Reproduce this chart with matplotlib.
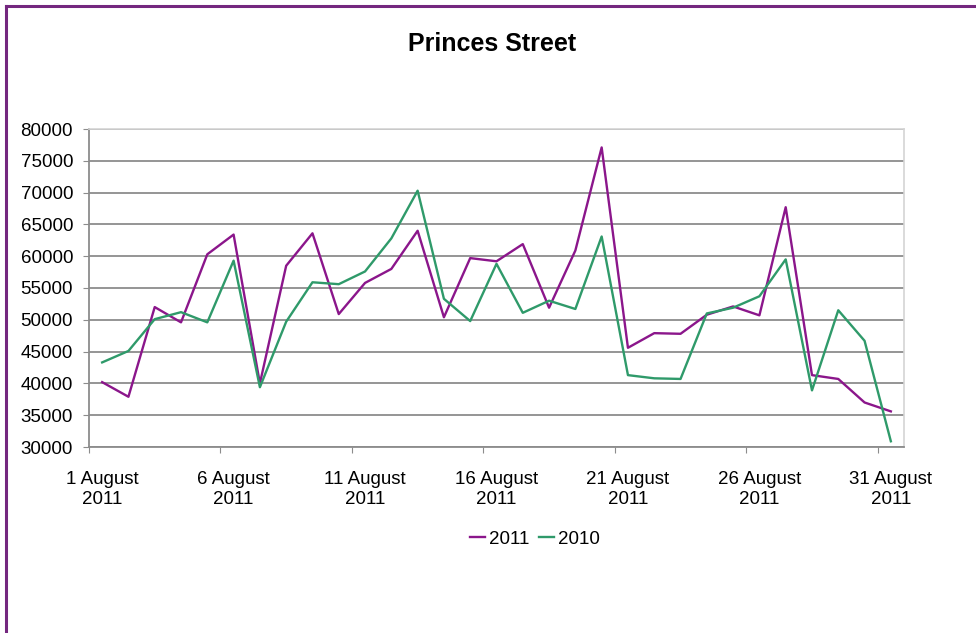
import matplotlib.pyplot as plt
from matplotlib.lines import Line2D

plt.rcParams['font.family'] = ['Liberation Sans', 'DejaVu Sans']

# daily footfall, Princes Street, August
days = list(range(1, 32))
counts_2011 = [40200, 37900, 52000, 49600, 60300, 63400, 40000, 58500, 63600, 50900,
               55800, 58000, 64000, 50400, 59700, 59200, 61900, 51900, 60900, 77100,
               45600, 47900, 47800, 50800, 52100, 50700, 67700, 41300, 40700, 37000,
               35600]
counts_2010 = [43300, 45100, 50100, 51200, 49600, 59300, 39400, 49700, 55900, 55600,
               57600, 62800, 70300, 53300, 49800, 58800, 51100, 53000, 51700, 63100,
               41300, 40800, 40700, 51000, 51900, 53700, 59500, 38900, 51500, 46700,
               30900]
label_days = [1, 6, 11, 16, 21, 26, 31]
tick_labels = [f'{d} August\n2011' for d in label_days]

fig = plt.figure(figsize=(9.76, 6.33), dpi=100)
ax = fig.add_axes([89/976, 1 - 447/633, (904 - 89)/976, (447 - 129)/633])

ax.plot(days, counts_2011, color='#8b168b', lw=1.7, label='2011')
ax.plot(days, counts_2010, color='#2f9a6a', lw=1.7, label='2010')

ax.set_xlim(0.5, 31.5)
ax.set_ylim(30000, 80000)
ax.set_yticks(range(30000, 80001, 5000))
ax.yaxis.grid(True, color='#8c8c8c', lw=1.3)
ax.set_axisbelow(True)

# ticks sit between categories, labels under the category
ax.set_xticks([d - 0.5 for d in label_days])
ax.set_xticklabels([])
ax.set_xticks(label_days, minor=True)
ax.set_xticklabels(tick_labels, minor=True, fontsize=13.5, linespacing=1.25)
ax.tick_params(axis='x', which='minor', length=0, pad=17)
ax.tick_params(axis='x', which='major', length=4.5, color='#8c8c8c')
ax.tick_params(axis='y', length=4.5, color='#8c8c8c', labelsize=13.5, pad=7)

for s in ['left', 'bottom']:
    ax.spines[s].set_color('#8c8c8c')
    ax.spines[s].set_linewidth(1.3)
for s in ['top', 'right']:
    ax.spines[s].set_color('#d4d4d4')
    ax.spines[s].set_linewidth(1.2)

fig.text(492/976, 1 - 44/633, 'Princes Street', ha='center', va='center',
         fontsize=18, fontweight='bold')

fig.legend(loc='center', bbox_to_anchor=(535/976, 1 - 539/633), ncol=2,
           frameon=False, fontsize=13.5, handlelength=0.8, handletextpad=0.2,
           columnspacing=0.55)

# purple frame round the chart (left and top edges visible)
fig.add_artist(Line2D([6/976, 6/976], [0, 1 - 6/633], transform=fig.transFigure,
                      color='#74277f', lw=2.2))
fig.add_artist(Line2D([6/976, 1], [1 - 6/633, 1 - 6/633], transform=fig.transFigure,
                      color='#74277f', lw=2.2))

fig.savefig('out.png', dpi=100)
